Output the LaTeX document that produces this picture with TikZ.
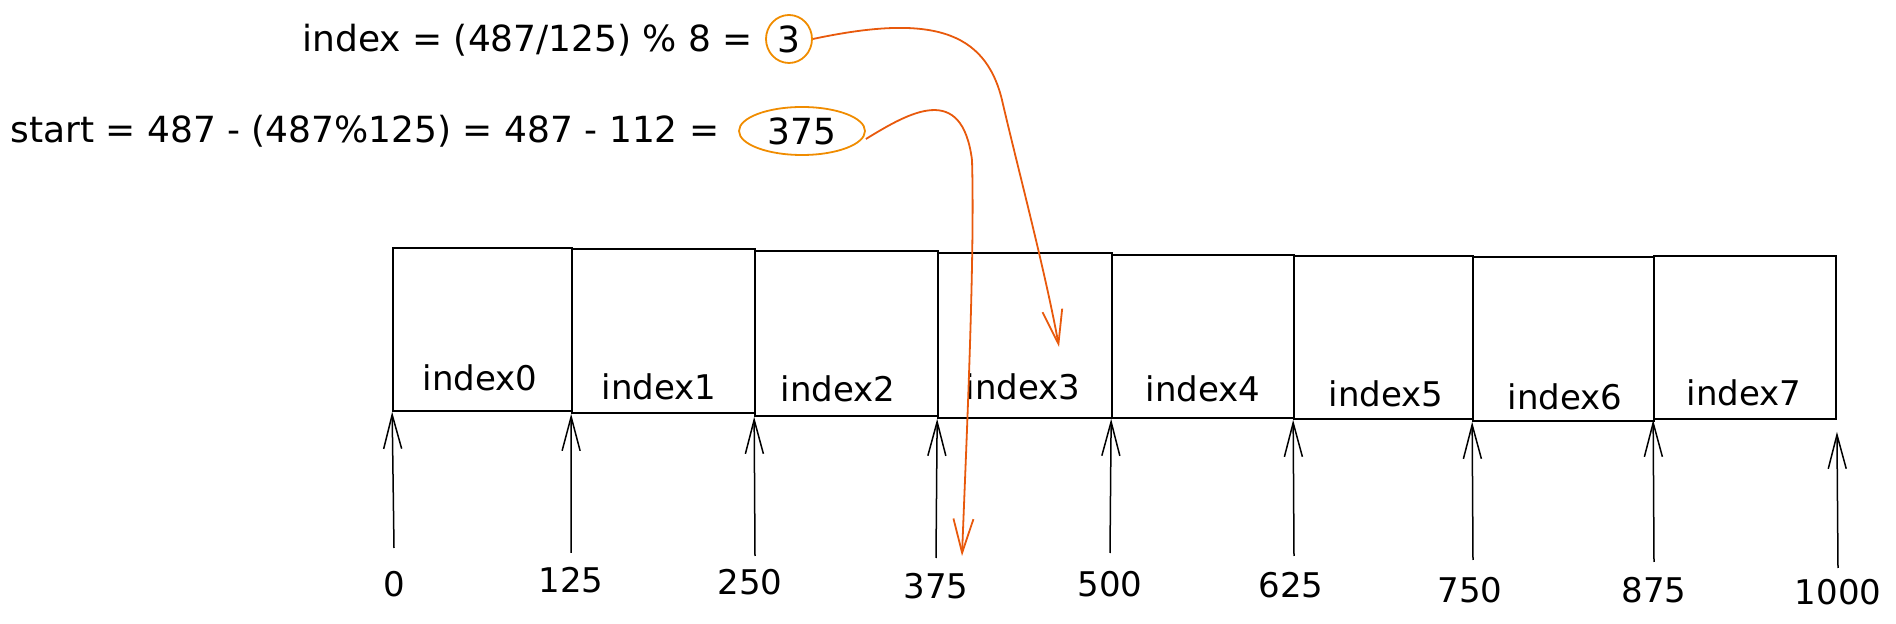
\documentclass[tikz,border=0pt]{standalone}
\usepackage{fontspec}
\setmainfont{DejaVu Sans}
\usetikzlibrary{arrows.meta,shapes.geometric,fit}
\definecolor{ringcol}{HTML}{F08C00}
\definecolor{pointcol}{HTML}{E8590C}
\begin{document}
\begin{tikzpicture}[x=0.5pt,y=-0.5pt,
  cell/.style={draw,line width=0.85pt,inner sep=0pt},
  lab/.style={font=\fontsize{17}{20}\selectfont,inner sep=0pt},
  eqtext/.style={font=\fontsize{18}{22}\selectfont,inner sep=0pt},
  tick/.style={line width=0.75pt,-{Straight Barb[length=17pt,width=9pt]}},
  pointer/.style={pointcol,line width=0.9pt,-{Straight Barb[length=17pt,width=10pt]}},
  ring/.style={ellipse,draw=ringcol,line width=0.9pt,inner sep=0pt}]
\useasboundingbox (0,0) rectangle (1896,624);

% equations
\node[eqtext,anchor=west] (eq1) at (302,40) {index = (487/125) \% 8 =};
\node[ring,eqtext,minimum width=23pt,minimum height=24pt] (r3) at (789,39) {3};
\node[eqtext,anchor=west] (eq2) at (10,131) {start = 487 - (487\%125) = 487 - 112 =};
\node[ring,eqtext,minimum width=63pt,minimum height=24pt] (r375) at (802,131) {375};

% cells
\node[cell,fit={(393,248) (572,411)}] (b0) {};
\node[cell,fit={(572,249) (755,413)}] (b1) {};
\node[cell,fit={(755,251) (938,416)}] (b2) {};
\node[cell,fit={(938,253) (1112,418)}] (b3) {};
\node[cell,fit={(1112,255) (1294,418)}] (b4) {};
\node[cell,fit={(1294,256) (1473,419)}] (b5) {};
\node[cell,fit={(1473,257) (1654,421)}] (b6) {};
\node[cell,fit={(1654,256) (1836,419)}] (b7) {};

\node[lab] (l0) at (480,378) {index0};
\node[lab] (l1) at (659,387) {index1};
\node[lab] (l2) at (838,389) {index2};
\node[lab] (l3) at (1023,387) {index3};
\node[lab] (l4) at (1203,389) {index4};
\node[lab] (l5) at (1386,394) {index5};
\node[lab] (l6) at (1565,397) {index6};
\node[lab] (l7) at (1744,393) {index7};

% boundary values
\node[lab] (v0) at (394,584) {0};
\node[lab] (v1) at (571,580) {125};
\node[lab] (v2) at (750,582) {250};
\node[lab] (v3) at (936,586) {375};
\node[lab] (v4) at (1110,584) {500};
\node[lab] (v5) at (1291,585) {625};
\node[lab] (v6) at (1470,590) {750};
\node[lab] (v7) at (1654,590) {875};
\node[lab] (v8) at (1838,592) {1000};

\coordinate (t0) at (394,548);
\coordinate (t1) at (571,553);
\coordinate (t2) at (755,556);
\coordinate (t3) at (936,558);
\coordinate (t4) at (1110,553);
\coordinate (t5) at (1294,556);
\coordinate (t6) at (1473,560);
\coordinate (t7) at (1654,562);
\coordinate (t8) at (1838,568);

\draw[tick] (t0) -- (b0.south west);
\draw[tick] (t1) -- (b1.south west);
\draw[tick] (t2) -- (b2.south west);
\draw[tick] (t3) -- (b3.south west);
\draw[tick] (t4) -- (b4.south west);
\draw[tick] (t5) -- (b5.south west);
\draw[tick] (t6) -- (b6.south west);
\draw[tick] (t7) -- (b7.south west);
\draw[tick,shorten >=6pt] (t8) -- (b7.south east);

% pointers
\coordinate (p3) at (1059,347);
\coordinate (p375) at (962,556);
\draw[pointer] (r3.east) .. controls (930,14) and (985,30) .. (1002,100)
  .. controls (1017,165) and (1045,270) .. (p3);
\draw[pointer] ([yshift=-4pt]r375.east) .. controls (910,112) and (962,82) .. (972,160)
  .. controls (975,260) and (966,450) .. (p375);
\end{tikzpicture}
\end{document}
